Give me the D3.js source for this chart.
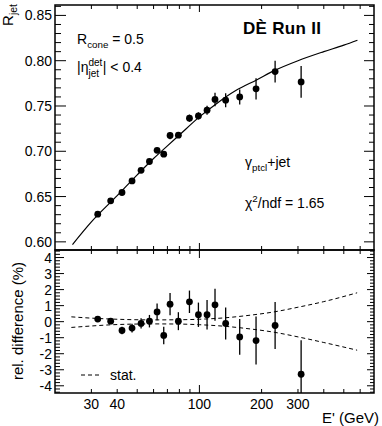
<!DOCTYPE html>
<html>
<head>
<meta charset="utf-8">
<script src="https://cdn.jsdelivr.net/npm/d3@7"></script>
<style>
  body { margin: 0; background: #fff; }
  svg { display: block; font-family: "Liberation Sans", Arial, Helvetica, sans-serif; }
</style>
</head>
<body>
<div id="chart"></div>
<script>
// photon+jet response vs E' with fit, and relative difference panel

const energy = [32.2, 37.2, 42.2, 47.2, 52.2, 57.3, 62.4, 67.2, 72.1, 79.1, 89.5, 98.9, 108.9, 119, 134, 156.7, 188, 232.5, 310.7];
const response = [0.6306, 0.6453, 0.6545, 0.6673, 0.679, 0.6887, 0.701, 0.6968, 0.7174, 0.7178, 0.7365, 0.739, 0.7454, 0.7572, 0.7564, 0.760, 0.7689, 0.788, 0.7766];
const responseErr = [0.002, 0.002, 0.002, 0.002, 0.002, 0.0025, 0.003, 0.003, 0.004, 0.003, 0.004, 0.004, 0.005, 0.0075, 0.0077, 0.0083, 0.0116, 0.012, 0.0175];
const relDiff = [0.16, 0.03, -0.55, -0.4, -0.11, 0.03, 0.61, -0.86, 1.09, 0.03, 1.24, 0.43, 0.43, 1.05, -0.11, -0.95, -1.18, -0.24, -3.28];
const relDiffErr = [0.12, 0.12, 0.23, 0.27, 0.32, 0.39, 0.52, 0.55, 0.69, 0.56, 0.7, 0.76, 0.92, 1.0, 1.0, 1.12, 1.5, 1.46, 2.12];

// fit curve
const fitE = [24.3, 30, 40, 50, 60, 70, 80, 100, 120, 150, 190, 230, 300, 400, 500, 582];
const fitR = [0.597, 0.622, 0.651, 0.674, 0.692, 0.706, 0.718, 0.738, 0.752, 0.767, 0.779, 0.789, 0.800, 0.810, 0.8172, 0.8226];

// statistical band of the fit (dashed)
const statE = [24, 30, 40, 60, 80, 100, 130, 170, 230, 300, 400, 580];
const statUp = [0.30, 0.22, 0.15, 0.11, 0.12, 0.15, 0.23, 0.38, 0.61, 0.9, 1.25, 1.8];
const statLow = [-0.36, -0.27, -0.18, -0.14, -0.15, -0.19, -0.28, -0.43, -0.66, -0.95, -1.3, -1.78];

const xTickLabels = [30, 40, 100, 200, 300];
const topTicks = ['0.60', '0.65', '0.70', '0.75', '0.80', '0.85'];
const lowTicks = [-4, -3, -2, -1, 0, 1, 2, 3, 4];

const W = 382, H = 426;
const L = 55, R = 374;
const topY0 = 5, topY1 = 250, lowY0 = 250, lowY1 = 393;
const font = 14;

const svg = d3.select('#chart').append('svg').attr('width', W).attr('height', H);

const x = d3.scaleLog().domain([20, 700]).range([L, R]);
const yTop = d3.scaleLinear().domain([0.591, 0.8615]).range([topY1, topY0]);
const yLow = d3.scaleLinear().domain([-4.45, 4.47]).range([lowY1, lowY0]);

const defs = svg.append('defs');
defs.append('clipPath').attr('id', 'clipTop').append('rect')
    .attr('x', L).attr('y', topY0).attr('width', R - L).attr('height', topY1 - topY0);
defs.append('clipPath').attr('id', 'clipLow').append('rect')
    .attr('x', L).attr('y', lowY0).attr('width', R - L).attr('height', lowY1 - lowY0);

// log minor positions
const xMinor = [];
for (let d = 10; d <= 100; d *= 10) {
    for (let k = 1; k <= 9; k++) {
        const v = d * k;
        if (v > 20 && v < 700) xMinor.push(v);
    }
}

function frame(g, y0, y1, yScale, majors, minorStep, opts) {
    const tick = (x1, y1_, x2, y2) => g.append('line')
        .attr('x1', x1).attr('y1', y1_).attr('x2', x2).attr('y2', y2)
        .attr('stroke', '#000').attr('stroke-width', 1);

    // x ticks
    xMinor.forEach(v => {
        const px = x(v);
        const len = v === 100 ? opts.xMajor : opts.xMinor;
        tick(px, y1, px, y1 - len);
        tick(px, y0, px, y0 + len);
    });

    // y ticks
    const [dmin, dmax] = yScale.domain();
    const start = Math.ceil(dmin / minorStep - 1e-6);
    const end = Math.floor(dmax / minorStep + 1e-6);
    for (let i = start; i <= end; i++) {
        const v = i * minorStep;
        const isMajor = majors.some(m => Math.abs(m - v) < 1e-6);
        const py = yScale(v);
        tick(L, py, L + (isMajor ? opts.yMajorL : opts.yMinorL), py);
        tick(R, py, R - (isMajor ? opts.yMajorR : opts.yMinorR), py);
    }

    g.append('rect')
        .attr('x', L).attr('y', y0).attr('width', R - L).attr('height', y1 - y0)
        .attr('fill', 'none').attr('stroke', '#000').attr('stroke-width', 1.5);
}

// ---------- top panel ----------
const gTop = svg.append('g');
frame(gTop, topY0, topY1, yTop, topTicks.map(Number), 0.01,
    { xMajor: 7, xMinor: 4, yMajorL: 11, yMinorL: 6, yMajorR: 10, yMinorR: 5 });

gTop.selectAll('text.ytick').data(topTicks).enter().append('text')
    .attr('x', 52).attr('y', d => yTop(+d)).attr('dy', '0.36em')
    .attr('text-anchor', 'end').style('font-size', font + 'px').text(d => d);

const plotTop = gTop.append('g').attr('clip-path', 'url(#clipTop)');
const fitLine = d3.line().x(d => x(d[0])).y(d => yTop(d[1])).curve(d3.curveMonotoneX);
plotTop.append('path')
    .datum(fitE.map((e, i) => [e, fitR[i]]))
    .attr('d', fitLine).attr('fill', 'none').attr('stroke', '#000').attr('stroke-width', 1.2);

plotTop.selectAll('line.err').data(energy).enter().append('line')
    .attr('x1', d => x(d)).attr('x2', d => x(d))
    .attr('y1', (d, i) => yTop(response[i] - responseErr[i]))
    .attr('y2', (d, i) => yTop(response[i] + responseErr[i]))
    .attr('stroke', '#000').attr('stroke-width', 1.3);
plotTop.selectAll('circle').data(energy).enter().append('circle')
    .attr('cx', d => x(d)).attr('cy', (d, i) => yTop(response[i])).attr('r', 3.4).attr('fill', '#000');

// texts in the top panel
function subText(parent, x0, y0, parts, size) {
    const t = parent.append('text').attr('x', x0).attr('y', y0).style('font-size', size + 'px');
    parts.forEach(p => {
        const s = t.append('tspan').text(p.t);
        if (p.sub) s.style('font-size', (size * 0.7) + 'px').attr('dy', p.dy);
        else if (p.dy) s.attr('dy', p.dy);
    });
    return t;
}

subText(svg, 77, 44, [{ t: 'R' }, { t: 'cone', sub: true, dy: 4 }, { t: ' = 0.5', dy: -4 }], font);

// |eta_jet^det| < 0.4
{
    const t1 = svg.append('text').attr('x', 77).attr('y', 72).style('font-size', font + 'px').text('|η');
    const w1 = t1.node().getComputedTextLength();
    const sup = svg.append('text').attr('x', 77 + w1).attr('y', 66).style('font-size', '10px').text('det');
    svg.append('text').attr('x', 77 + w1).attr('y', 77).style('font-size', '10px').text('jet');
    const w2 = sup.node().getComputedTextLength();
    svg.append('text').attr('x', 77 + w1 + w2 + 0.5).attr('y', 72).style('font-size', font + 'px').text('| < 0.4');
}

svg.append('text').attr('x', 243).attr('y', 34)
    .style('font-size', '17px').style('font-weight', 'bold').style('letter-spacing', '0.3px').text('DÈ Run II');

subText(svg, 245, 167, [{ t: 'γ' }, { t: 'ptcl', sub: true, dy: 4 }, { t: '+jet', dy: -4 }], font);
subText(svg, 245, 208, [{ t: 'χ' }, { t: '2', sub: true, dy: -6 }, { t: '/ndf = 1.65', dy: 6 }], font);

// y title of the top panel
svg.append('text')
    .attr('transform', 'translate(13,4) rotate(-90)')
    .attr('text-anchor', 'end').style('font-size', '15px')
    .call(t => {
        t.append('tspan').text('R');
        t.append('tspan').attr('dy', 4).style('font-size', '10.5px').text('jet');
    });

// ---------- lower panel ----------
const gLow = svg.append('g');
frame(gLow, lowY0, lowY1, yLow, lowTicks, 0.2,
    { xMajor: 8, xMinor: 4, yMajorL: 9, yMinorL: 5, yMajorR: 7, yMinorR: 4 });

gLow.selectAll('text.ytick').data(lowTicks).enter().append('text')
    .attr('x', 52).attr('y', d => yLow(d)).attr('dy', '0.36em')
    .attr('text-anchor', 'end').style('font-size', font + 'px').text(d => d);

gLow.selectAll('text.xtick').data(xTickLabels).enter().append('text')
    .attr('x', d => x(d)).attr('y', 409)
    .attr('text-anchor', 'middle').style('font-size', font + 'px').text(d => d);

const plotLow = gLow.append('g').attr('clip-path', 'url(#clipLow)');
const bandLine = d3.line().x(d => x(d[0])).y(d => yLow(d[1])).curve(d3.curveMonotoneX);
[statUp, statLow].forEach(arr => {
    plotLow.append('path')
        .datum(statE.map((e, i) => [e, arr[i]]))
        .attr('d', bandLine).attr('fill', 'none').attr('stroke', '#000')
        .attr('stroke-width', 1).attr('stroke-dasharray', '4,3');
});

plotLow.selectAll('line.err').data(energy).enter().append('line')
    .attr('x1', d => x(d)).attr('x2', d => x(d))
    .attr('y1', (d, i) => yLow(relDiff[i] - relDiffErr[i]))
    .attr('y2', (d, i) => yLow(relDiff[i] + relDiffErr[i]))
    .attr('stroke', '#000').attr('stroke-width', 1.3);
plotLow.selectAll('circle').data(energy).enter().append('circle')
    .attr('cx', d => x(d)).attr('cy', (d, i) => yLow(relDiff[i])).attr('r', 3.4).attr('fill', '#000');

// legend
gLow.append('line').attr('x1', 81).attr('x2', 100).attr('y1', 375).attr('y2', 375)
    .attr('stroke', '#000').attr('stroke-width', 1).attr('stroke-dasharray', '4,3');
gLow.append('text').attr('x', 110).attr('y', 380).style('font-size', font + 'px').text('stat.');

svg.append('text')
    .attr('transform', 'translate(23,321) rotate(-90)')
    .attr('text-anchor', 'middle').style('font-size', '15px').text('rel. difference (%)');

svg.append('text').attr('x', 379).attr('y', 423)
    .attr('text-anchor', 'end').style('font-size', '15px').text("E' (GeV)");
</script>
</body>
</html>
